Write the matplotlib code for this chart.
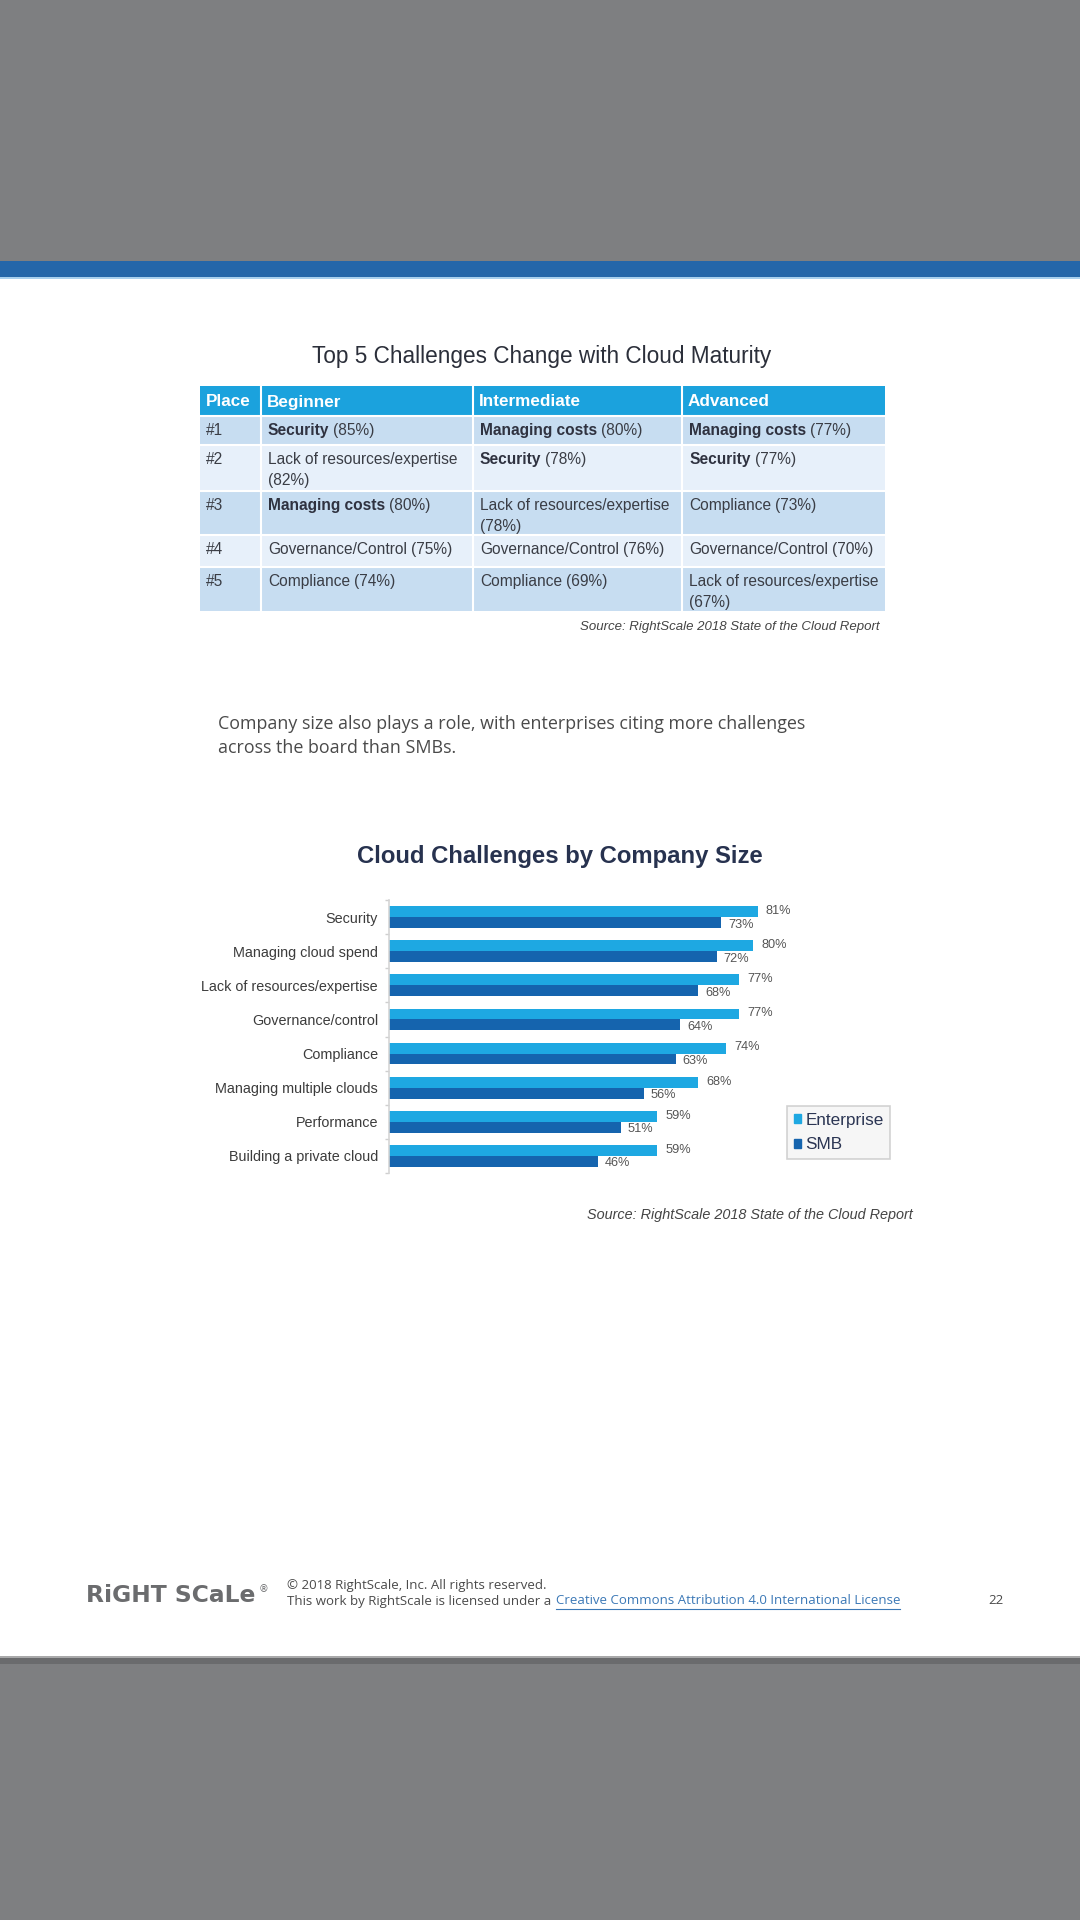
import matplotlib
matplotlib.use('Agg')
import matplotlib.pyplot as plt
from matplotlib.patches import Rectangle
import numpy as np

# ---------------- data ----------------
table_title = "Top 5 Challenges Change with Cloud Maturity"
table_header = ["Place", "Beginner", "Intermediate", "Advanced"]
places = ["#1", "#2", "#3", "#4", "#5"]
beginner = ["Security", "Lack of resources/expertise", "Managing costs",
            "Governance/Control", "Compliance"]
beginner_pct = [85, 82, 80, 75, 74]
intermediate = ["Managing costs", "Security", "Lack of resources/expertise",
                "Governance/Control", "Compliance"]
intermediate_pct = [80, 78, 78, 76, 69]
advanced = ["Managing costs", "Security", "Compliance",
            "Governance/Control", "Lack of resources/expertise"]
advanced_pct = [77, 77, 73, 70, 67]
bold_items = ["Security", "Managing costs"]
source_text = "Source: RightScale 2018 State of the Cloud Report"

paragraph = ["Company size also plays a role, with enterprises citing more challenges",
             "across the board than SMBs."]

chart_title = "Cloud Challenges by Company Size"
categories = ["Security", "Managing cloud spend", "Lack of resources/expertise",
              "Governance/control", "Compliance", "Managing multiple clouds",
              "Performance", "Building a private cloud"]
enterprise = [81, 80, 77, 77, 74, 68, 59, 59]
smb = [73, 72, 68, 64, 63, 56, 51, 46]
series_names = ["Enterprise", "SMB"]

footer_line1 = "\u00a9 2018 RightScale, Inc. All rights reserved."
footer_line2 = "This work by RightScale is licensed under a "
footer_link = "Creative Commons Attribution 4.0 International License"
page_number = "22"

# ---------------- figure ----------------
W, H = 1080, 1920
fig = plt.figure(figsize=(10.8, 19.2), dpi=100)
fig.patch.set_facecolor('#7e7f81')

bg = fig.add_axes([0, 0, 1, 1])
bg.set_xlim(0, W)
bg.set_ylim(H, 0)
bg.axis('off')
bg.set_zorder(0)

# page & header band
bg.add_patch(Rectangle((0, 279), W, 1656 - 279, color='white', lw=0))
bg.add_patch(Rectangle((0, 261), W, 17, color='#2466a9', lw=0))
bg.add_patch(Rectangle((0, 277), W, 2, color='#a8d0ee', lw=0))
bg.add_patch(Rectangle((0, 1656), W, 2, color='#a9a9aa', lw=0))
bg.add_patch(Rectangle((0, 1658), W, 6, color='#6a6b6d', lw=0))

renderer = fig.canvas.get_renderer()
SANS = 'Liberation Sans'
BODY = 'Open Sans'

# ---------------- table ----------------
bg.text(542, 357, table_title, ha='center', va='center', fontsize=16.3,
        family=SANS, color='#2b2f3a')

col_x = [200, 261, 473, 682, 885]
row_y = [386, 416, 445, 491, 535, 567, 611]
row_colors = ['#c7ddf1', '#e7f0fa', '#c7ddf1', '#e7f0fa', '#c7ddf1']

bg.add_patch(Rectangle((col_x[0], row_y[0]), col_x[-1] - col_x[0],
                       row_y[1] - row_y[0], color='#1ba2dd', lw=0))
for r in range(5):
    bg.add_patch(Rectangle((col_x[0], row_y[r + 1]), col_x[-1] - col_x[0],
                           row_y[r + 2] - row_y[r + 1], color=row_colors[r], lw=0))
for x in col_x[1:-1]:
    bg.plot([x, x], [row_y[0], row_y[-1]], color='white', lw=1.5)
for y in row_y[1:-1]:
    bg.plot([col_x[0], col_x[-1]], [y, y], color='white', lw=1.5)

for c, h in enumerate(table_header):
    bg.text(col_x[c] + 6, (row_y[0] + row_y[1]) / 2 + 1, h, ha='left', va='center',
            fontsize=12.3, fontweight='bold', family=SANS, color='white')

TXT = '#3a3d45'
cols = [(beginner, beginner_pct), (intermediate, intermediate_pct),
        (advanced, advanced_pct)]
FS = 11.2
for r in range(5):
    ytop = row_y[r + 1] + 7
    bg.text(col_x[0] + 6, ytop, places[r], ha='left', va='top', fontsize=FS,
            family=SANS, color=TXT)
    for c, (items, pcts) in enumerate(cols):
        x0 = col_x[c + 1] + 7
        item = items[r]
        pct = f"({pcts[r]}%)"
        bold = item in bold_items
        t = bg.text(x0, ytop, item, ha='left', va='top', fontsize=FS, family=SANS,
                    fontweight='bold' if bold else 'normal',
                    color='#2f3240' if bold else TXT)
        if len(item) > 20:
            bg.text(x0, ytop + 21, pct, ha='left', va='top', fontsize=FS,
                    family=SANS, color=TXT)
        else:
            bb = t.get_window_extent(renderer)
            bg.text(bb.x1 + 4, ytop, pct, ha='left', va='top', fontsize=FS,
                    family=SANS, color=TXT)

bg.text(879, 627, source_text, ha='right', va='center', fontsize=9.5,
        family=SANS, style='italic', color='#444444')

# ---------------- paragraph ----------------
for i, line in enumerate(paragraph):
    bg.text(218, 724 + i * 24, line, ha='left', va='center', fontsize=12.9,
            family=BODY, color='#4a4a4a')

# ---------------- bar chart ----------------
bg.text(560, 857, chart_title, ha='center', va='center', fontsize=17.2,
        fontweight='bold', family=SANS, color='#27324f')

ax_l, ax_r, ax_t, ax_b = 389, 844, 900, 1173
ax = fig.add_axes([ax_l / W, 1 - ax_b / H, (ax_r - ax_l) / W, (ax_b - ax_t) / H])
ax.set_zorder(2)
ax.patch.set_alpha(0)

ENT_C = '#1ea8e2'
SMB_C = '#1564ae'
y = np.arange(len(categories))
bh = 0.32
ax.barh(y - bh / 2, enterprise, height=bh, color=ENT_C, lw=0, label=series_names[0])
ax.barh(y + bh / 2, smb, height=bh, color=SMB_C, lw=0, label=series_names[1])
for i in range(len(categories)):
    ax.text(enterprise[i] + 1.8, y[i] - bh / 2 - 0.02, f"{enterprise[i]}%", ha='left',
            va='center', fontsize=9.2, family=SANS, color='#555555')
    ax.text(smb[i] + 1.5, y[i] + bh / 2 + 0.06, f"{smb[i]}%", ha='left',
            va='center', fontsize=9.2, family=SANS, color='#555555')

ax.set_xlim(0, 100)
ax.set_ylim(len(categories) - 0.5, -0.5)
ax.set_yticks(y)
ax.set_yticklabels(categories, fontsize=10.4, family=SANS, color='#3c3c3c')
ax.set_yticks(np.arange(len(categories) + 1) - 0.5, minor=True)
ax.tick_params(axis='y', which='major', length=0, pad=8)
ax.tick_params(axis='y', which='minor', length=3, color='#cfcfcf', width=1)
ax.set_xticks([])
for s in ['top', 'right', 'bottom']:
    ax.spines[s].set_visible(False)
ax.spines['left'].set_color('#d5d5d5')
ax.spines['left'].set_linewidth(1.2)

handles = [Rectangle((0, 0), 1, 1, color=ENT_C), Rectangle((0, 0), 1, 1, color=SMB_C)]
leg = fig.legend(handles, series_names, loc='upper left',
                 bbox_to_anchor=(787 / W, 1 - 1106 / H), frameon=True,
                 prop={'family': SANS, 'size': 12.3}, handlelength=0.42,
                 handleheight=0.42, handletextpad=0.25, labelspacing=0.55,
                 borderpad=0.4, borderaxespad=0, fancybox=False,
                 labelcolor='#2b3553')
leg.get_frame().set_facecolor('#f4f4f4')
leg.get_frame().set_edgecolor('#c8c8c8')
leg.get_frame().set_linewidth(1.2)

bg.text(913, 1215, source_text, ha='right', va='center', fontsize=10.4,
        family=SANS, style='italic', color='#444444')

# ---------------- footer ----------------
logo = bg.text(86, 1595, "RiGHT SCaLe", ha='left', va='center', fontsize=16.8,
               fontweight='bold', family='DejaVu Sans', color='#6b6c6e')
lb = logo.get_window_extent(renderer)
bg.text(lb.x1 + 3, 1589, "\u00ae", ha='left', va='center', fontsize=7,
        family='DejaVu Sans', color='#6b6c6e')
FF = 9.5
bg.text(287, 1586, footer_line1, ha='left', va='center', fontsize=FF,
        family=BODY, color='#4a4a4a')
t2 = bg.text(287, 1601, footer_line2, ha='left', va='center', fontsize=FF,
             family=BODY, color='#4a4a4a')
bb2 = t2.get_window_extent(renderer)
t3 = bg.text(bb2.x1 + 1, 1601, footer_link, ha='left', va='center', fontsize=FF,
             family=BODY, color='#3b78b6')
bb3 = t3.get_window_extent(renderer)
bg.plot([bb3.x0, bb3.x1], [1608.5, 1608.5], color='#3b78b6', lw=0.8)
bg.text(988, 1601, page_number, ha='left', va='center', fontsize=FF,
        family=BODY, color='#4a4a4a')

fig.savefig('out.png', dpi=100, facecolor=fig.get_facecolor())
